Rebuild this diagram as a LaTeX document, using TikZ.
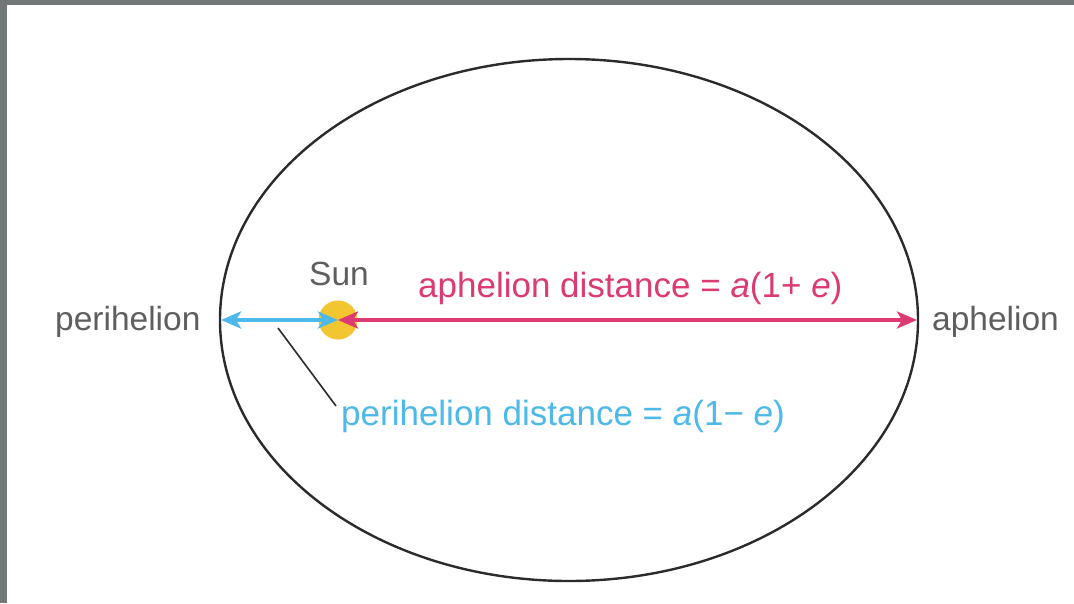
\documentclass[tikz,border=0pt]{standalone}
\usepackage{fontspec}
\setmainfont{Liberation Sans}
\usetikzlibrary{arrows.meta}
\definecolor{framegray}{HTML}{727778}
\definecolor{txtgray}{HTML}{5E5E5E}
\definecolor{orbitc}{HTML}{2B2B2B}
\definecolor{peric}{HTML}{4DB8EA}
\definecolor{aphc}{HTML}{DC3A72}
\definecolor{sunc}{HTML}{F3C530}
\tikzset{
  lbl/.style={inner sep=0pt, anchor=base west, font=\fontsize{33.5}{38}\selectfont, text=txtgray},
  biglbl/.style={inner sep=0pt, anchor=base west, font=\fontsize{35}{40}\selectfont},
  orbit/.style={draw=orbitc, line width=2.4pt},
  tip/.style={},
  parrow/.style={draw=peric, line width=3.6pt, {Stealth[length=20pt 0,width=17pt 0,inset=5pt]}-{Stealth[length=20pt 0,width=17pt 0,inset=5pt]}},
  aarrow/.style={draw=aphc, line width=3.6pt, {Stealth[length=20pt 0,width=17pt 0,inset=5pt]}-{Stealth[length=20pt 0,width=17pt 0,inset=5pt]}},
  leader/.style={draw=orbitc, line width=1.6pt}
}
\begin{document}
\begin{tikzpicture}[x=1pt,y=-1pt]
\useasboundingbox (0,0) rectangle (1074,603);
\fill[framegray] (0,0) rectangle (1074,603);
\fill[white] (7,5) rectangle (1074,603);
% orbit
\draw[orbit] (569,320) ellipse [x radius=349, y radius=261];
\coordinate (peri) at (221,320);
\coordinate (aph) at (917,320);
% sun
\node[circle, fill=sunc, minimum size=39pt, inner sep=0pt] (sun) at (338,320) {};
\node[lbl] (sunlbl) at (309,285) {Sun};
% arrows
\draw[parrow] (peri) -- (sun.center);
\draw[aarrow] (sun.center) -- (aph);
% labels
\node[lbl] (perilbl) at (55,330) {perihelion};
\node[lbl] (aphlbl) at (932,330) {aphelion};
\node[biglbl, text=aphc] (aphdist) at (418,297) {aphelion distance = \textit{a}(1+ \textit{e})};
\node[biglbl, text=peric] (peridist) at (341,425) {perihelion distance = \textit{a}(1\textminus\ \textit{e})};
\coordinate (leadstart) at (278,328);
\coordinate (leadend) at (336,406);
\draw[leader] (leadstart) -- (leadend);
\end{tikzpicture}
\end{document}
